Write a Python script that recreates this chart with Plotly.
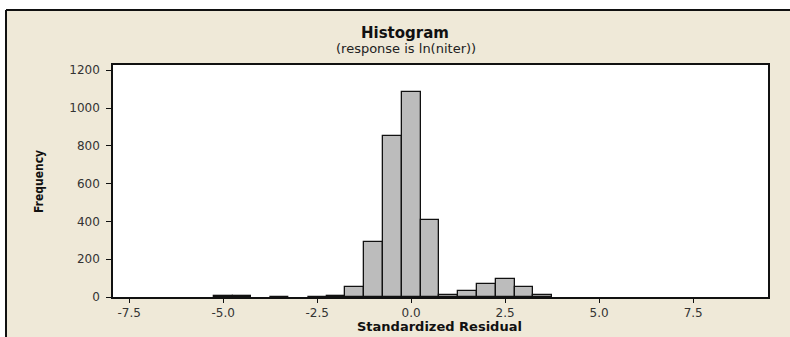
import plotly.graph_objects as go

# Histogram of standardized residuals (bin centers, width 0.5)
bin_centers = [-5.0, -4.5, -4.0, -3.5, -3.0, -2.5, -2.0, -1.5, -1.0, -0.5,
               0.0, 0.5, 1.0, 1.5, 2.0, 2.5, 3.0, 3.5]
frequencies = [3, 3, 0, 2, 0, 2, 3, 53, 293, 850,
               1085, 408, 11, 32, 67, 96, 53, 11]
bin_width = 0.5

x_tick_vals = [-7.5, -5.0, -2.5, 0.0, 2.5, 5.0, 7.5]
x_tick_text = ["-7.5", "-5.0", "-2.5", "0.0", "2.5", "5.0", "7.5"]
y_tick_vals = [0, 200, 400, 600, 800, 1000, 1200]

title_text = "Histogram"
subtitle_text = "(response is ln(niter))"
x_title = "Standardized Residual"
y_title = "Frequency"

W, H = 790, 337
ML, MR, MT, MB = 113, 22, 65, 40
PW, PH = W - ML - MR, H - MT - MB


def px_x(px):
    return (px - ML) / PW


def px_y(py):
    return (H - MB - py) / PH


BEIGE = "#efe9d8"
FONT = "DejaVu Sans"

fig = go.Figure()
fig.add_trace(go.Bar(
    x=bin_centers,
    y=[v if v > 0 else None for v in frequencies],
    width=bin_width,
    marker=dict(color="#bcbcbc", line=dict(color="#111111", width=1.3)),
    hoverinfo="x+y",
))

fig.update_layout(
    width=W, height=H,
    margin=dict(l=ML, r=MR, t=MT, b=MB, pad=0),
    paper_bgcolor=BEIGE,
    plot_bgcolor="white",
    showlegend=False,
    bargap=0,
    font=dict(family=FONT, size=12, color="#333333"),
    xaxis=dict(
        range=[-7.93, 9.49],
        tickvals=x_tick_vals, ticktext=x_tick_text,
        ticks="outside", ticklen=4, tickwidth=1, tickcolor="#111111",
        showgrid=False, zeroline=False,
        showline=True, linecolor="#111111", linewidth=1.5, mirror=True,
        tickfont=dict(family=FONT, size=12, color="#333333"),
        ticklabelstandoff=0,
    ),
    yaxis=dict(
        range=[0, 1228],
        tickvals=y_tick_vals,
        ticks="outside", ticklen=5, tickwidth=1, tickcolor="#111111",
        showgrid=False, zeroline=False,
        showline=True, linecolor="#111111", linewidth=1.5, mirror=True,
        tickfont=dict(family=FONT, size=12, color="#333333"),
        ticklabelstandoff=4,
    ),
    annotations=[
        dict(text="<b>" + title_text + "</b>", x=px_x(405), y=px_y(33),
             xref="paper", yref="paper", showarrow=False,
             xanchor="center", yanchor="middle",
             font=dict(family=FONT, size=15, color="#111111")),
        dict(text=subtitle_text, x=px_x(406), y=px_y(48),
             xref="paper", yref="paper", showarrow=False,
             xanchor="center", yanchor="middle",
             font=dict(family=FONT, size=13, color="#222222")),
        dict(text="<b>" + x_title + "</b>", x=px_x(439), y=px_y(326),
             xref="paper", yref="paper", showarrow=False,
             xanchor="center", yanchor="middle",
             font=dict(family=FONT, size=13, color="#111111")),
        dict(text="<b>" + y_title + "</b>", x=px_x(39), y=px_y(182),
             xref="paper", yref="paper", showarrow=False, textangle=-90,
             xanchor="center", yanchor="middle",
             font=dict(family="DejaVu Sans Condensed", size=12, color="#111111")),
    ],
    shapes=[
        # white strips outside the frame
        dict(type="rect", xref="paper", yref="paper",
             x0=px_x(-5), x1=px_x(W + 5), y0=px_y(10), y1=px_y(-5),
             fillcolor="white", line=dict(width=0), layer="above"),
        dict(type="rect", xref="paper", yref="paper",
             x0=px_x(-5), x1=px_x(6), y0=px_y(H + 5), y1=px_y(-5),
             fillcolor="white", line=dict(width=0), layer="above"),
        # frame lines
        dict(type="line", xref="paper", yref="paper",
             x0=px_x(6), x1=px_x(W + 5), y0=px_y(10), y1=px_y(10),
             line=dict(color="#111111", width=2), layer="above"),
        dict(type="line", xref="paper", yref="paper",
             x0=px_x(6), x1=px_x(6), y0=px_y(10), y1=px_y(H + 5),
             line=dict(color="#111111", width=2), layer="above"),
    ],
)

fig.write_html(
    "out.html",
    config={"displayModeBar": False},
    post_script="document.body.style.margin='0';document.body.style.overflow='hidden';",
)
